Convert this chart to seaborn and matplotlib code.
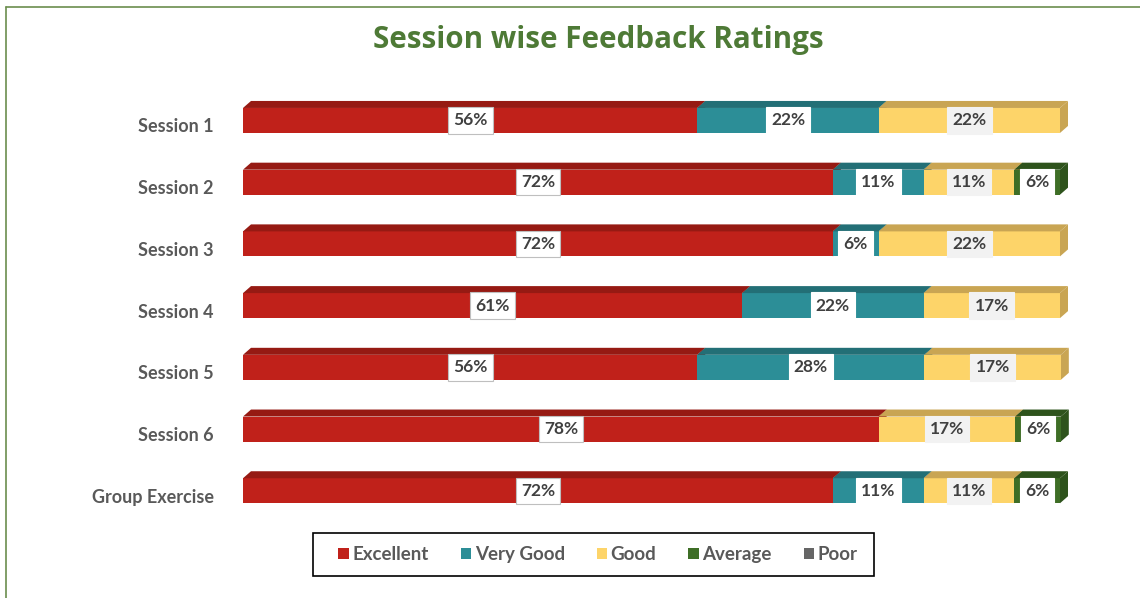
import numpy as np
import pandas as pd
import matplotlib.pyplot as plt
import seaborn as sns
from matplotlib.patches import Polygon, Patch, Rectangle
from matplotlib.lines import Line2D
from matplotlib.transforms import ScaledTranslation

# Data (percent of responses per session)
sessions = ['Session 1', 'Session 2', 'Session 3', 'Session 4', 'Session 5', 'Session 6', 'Group Exercise']
ratings = ['Excellent', 'Very Good', 'Good', 'Average', 'Poor']
excellent = [55.6, 72.2, 72.2, 61.1, 55.6, 77.8, 72.2]
very_good = [22.2, 11.1, 5.6, 22.2, 27.8, 0.0, 11.1]
good = [22.2, 11.1, 22.2, 16.7, 16.7, 16.7, 11.1]
average = [0.0, 5.6, 0.0, 0.0, 0.0, 5.6, 5.6]
poor = [0.0, 0.0, 0.0, 0.0, 0.0, 0.0, 0.0]

front_colors = ['#C0211A', '#2C8E97', '#FDD469', '#3E6E26', '#666666']
top_colors = ['#961A13', '#236F76', '#C9A553', '#2E531C', '#4D4D4D']
label_fc = ['white', 'white', '#F2F2F2', 'white', 'white']
label_ec = ['#BFBFBF', 'white', '#F2F2F2', 'white', 'white']

sns.set_theme(style='white')
plt.rcParams['font.family'] = ['Lato', 'DejaVu Sans']

df = pd.DataFrame({'Session': sessions, 'Excellent': excellent, 'Very Good': very_good,
                   'Good': good, 'Average': average, 'Poor': poor})
cum = df[ratings].cumsum(axis=1)
start = cum - df[ratings]

W, H = 1140, 598
fig = plt.figure(figsize=(W / 100, H / 100), dpi=100)
ax = fig.add_axes([243 / W, 1 - 521.6 / H, 817 / W, 432 / H])

BAR_H = 0.405
# stacked bars: overlay cumulative totals, widest first
for i in reversed(range(len(ratings))):
    sns.barplot(x=cum[ratings[i]], y=df['Session'], orient='h', color=front_colors[i],
                saturation=1, width=BAR_H, ax=ax, zorder=3, linewidth=0)
for p in ax.patches:
    p.set_clip_on(False)

ax.set_xlim(0, 100)
ax.set_ylim(6.5, -0.5)

# 3D depth in data units (8 px right, 7 px up)
dx = 8 / 817 * 100
dy = 7 / 61.7

for j in range(len(sessions)):
    yt = j - BAR_H / 2
    yb = j + BAR_H / 2
    for i, r in enumerate(ratings):
        x0, x1 = start.loc[j, r], cum.loc[j, r]
        if x1 - x0 <= 0:
            continue
        ax.add_patch(Polygon([(x0, yt), (x1, yt), (x1 + dx, yt - dy), (x0 + dx, yt - dy)],
                             closed=True, fc=top_colors[i], ec='none', zorder=4, clip_on=False))
        ax.add_patch(Polygon([(x1, yt), (x1 + dx, yt - dy), (x1 + dx, yb - dy), (x1, yb)],
                             closed=True, fc=top_colors[i], ec='none', zorder=2, clip_on=False))
        ax.text((x0 + x1) / 2, j, f'{x1 - x0:.0f}%', ha='center', va='center',
                fontsize=12.5, fontweight='bold', color='#404040', zorder=6,
                bbox=dict(boxstyle='square,pad=0.3', fc=label_fc[i], ec=label_ec[i], lw=0.8))

ax.set_xlabel('')
ax.set_ylabel('')
ax.set_xticks([])
ax.tick_params(axis='y', length=0, pad=21)
for lab in ax.get_yticklabels():
    lab.set_fontsize(13)
    lab.set_fontweight('bold')
    lab.set_color('#595959')
    lab.set_transform(lab.get_transform() + ScaledTranslation(0, -5 / 100, fig.dpi_scale_trans))
sns.despine(ax=ax, left=True, bottom=True)

fig.text(598.5 / W, 1 - 40 / H, 'Session wise Feedback Ratings', ha='center', va='center',
         fontsize=21.3, fontweight='bold', color='#4E7A36', family=['Open Sans', 'DejaVu Sans'])

handles = [Patch(fc=c, ec='none', label=r) for c, r in zip(front_colors, ratings)]
leg = fig.legend(handles=handles, loc='center', bbox_to_anchor=(598 / W, 1 - 554.5 / H),
                 ncol=5, frameon=False, handlelength=0.55, handleheight=0.55,
                 handletextpad=0.2, columnspacing=1.7, labelcolor='#595959',
                 prop=dict(weight='bold', size=13.5))
# legend frame
fig.add_artist(Rectangle((313 / W, 1 - 576 / H), 561 / W, 43 / H, transform=fig.transFigure,
                         fill=False, ec='black', lw=1.2))

# outer chart border (left and top visible)
fig.add_artist(Line2D([6 / W, 6 / W], [0, 1 - 7 / H], transform=fig.transFigure, color='#6B8E4E', lw=1.2))
fig.add_artist(Line2D([6 / W, 1], [1 - 7 / H, 1 - 7 / H], transform=fig.transFigure, color='#6B8E4E', lw=1.2))

fig.savefig('out.png', dpi=100)
